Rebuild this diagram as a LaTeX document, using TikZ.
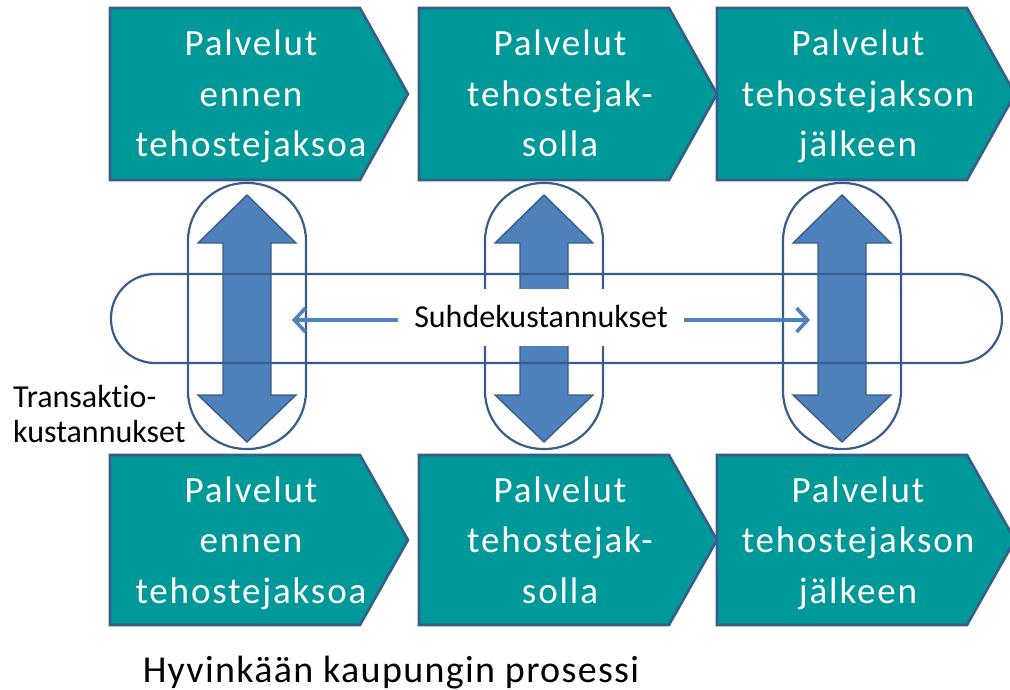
\documentclass[tikz,border=0pt]{standalone}
\usepackage{fontspec}
\setmainfont{Carlito}
\usetikzlibrary{arrows.meta}
\definecolor{tealfill}{RGB}{0,153,153}
\definecolor{navyline}{RGB}{56,93,138}
\definecolor{arrowblue}{RGB}{79,129,189}
\begin{document}
\begin{tikzpicture}[x=1pt,y=-1pt,
  chev/.style={fill=tealfill, draw=navyline, line width=2.6pt, line join=miter},
  chevtext/.style={text=white, align=center, inner sep=0pt, anchor=base,
    font=\fontsize{37}{50.5}\selectfont\addfontfeature{LetterSpace=5}},
  bigarrow/.style={fill=arrowblue, draw=navyline, line width=1.4pt, line join=miter},
  ring/.style={draw=navyline, line width=2.2pt},
  smallarrow/.style={draw=arrowblue, line width=3.6pt, -{Straight Barb[length=11pt,width=24pt]}},
  sidelabel/.style={align=left, inner sep=0pt,
    font=\fontsize{32}{35}\selectfont\addfontfeature{Ligatures=NoCommon}},
]
\useasboundingbox (0,0) rectangle (1010,690);

% chevrons, top and bottom rows
\foreach \lx/\nm/\txt in {110/one/{Palvelut\\ennen\\tehostejaksoa},
                          419/two/{Palvelut\\tehostejak-\\solla},
                          717/three/{Palvelut\\tehostejakson\\jälkeen}}{
  \draw[chev] (\lx,8) -- (\lx+250,8) -- (\lx+298,94) -- (\lx+250,180) -- (\lx,180) -- cycle;
  \node[chevtext] (top\nm) at (\lx+141,157) {\txt};
  \draw[chev] (\lx,455) -- (\lx+250,455) -- (\lx+298,540) -- (\lx+250,625) -- (\lx,625) -- cycle;
  \node[chevtext] (bot\nm) at (\lx+141,603) {\txt};
}

% big double arrows
\foreach \cx in {247,544,842}{
  \draw[bigarrow] (\cx,195) -- (\cx+49,243) -- (\cx+24,243) -- (\cx+24,395) -- (\cx+49,395)
     -- (\cx,442) -- (\cx-49,395) -- (\cx-24,395) -- (\cx-24,243) -- (\cx-49,243) -- cycle;
}

% horizontal stadium
\draw[ring, rounded corners=44pt] (111,274) rectangle (1002,363);
% vertical stadiums
\foreach \cx in {247,544,842}{
  \draw[ring, rounded corners=58pt] (\cx-59,183) rectangle (\cx+59,449);
}

% relation costs label
\node[fill=white, inner xsep=16pt, minimum height=57pt, font=\fontsize{32}{35}\selectfont]
  (suhde) at (541,317) {Suhdekustannukset};
\coordinate (lefttip) at (292,320);
\coordinate (righttip) at (810,320);
\draw[smallarrow] (suhde.west |- lefttip) -- (lefttip);
\draw[smallarrow] (suhde.east |- righttip) -- (righttip);

% transaction costs label
\node[sidelabel, anchor=base west] (trans) at (13,442) {Transaktio-\\kustannukset};

% caption
\node[inner sep=0pt, anchor=base, font=\fontsize{38}{45}\selectfont\addfontfeature{LetterSpace=3.5}]
  (caption) at (391,682) {Hyvinkään kaupungin prosessi};
\end{tikzpicture}
\end{document}
